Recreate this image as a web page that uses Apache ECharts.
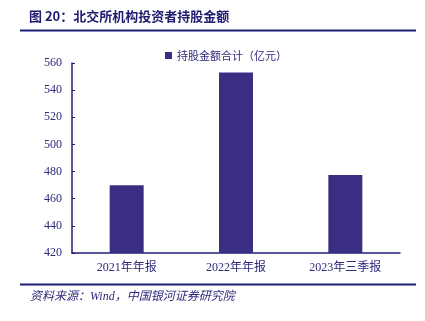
<!DOCTYPE html>
<html><head><meta charset="utf-8">
<script src="https://cdn.jsdelivr.net/npm/echarts@6/dist/echarts.min.js"></script>
<style>html,body{margin:0;padding:0;background:#fff}#c{width:425px;height:321px}</style>
</head><body><div id="c"></div>
<script>
const categories = ['2021年年报', '2022年年报', '2023年三季报'];
const values = [470, 553, 477.5];
const seriesName = '持股金额合计（亿元）';
const titleText = '图 20：北交所机构投资者持股金额';
const sourceText = '资料来源：Wind，中国银河证券研究院';

const navy = '#1f1c78';
const textColor = '#2e2a7c';
const chart = echarts.init(document.getElementById('c'));
chart.setOption({
  animation: false,
  backgroundColor: '#fff',
  grid: { left: 72, right: 25, top: 63, bottom: 68 },
  legend: {
    data: [seriesName], top: 45, left: 160, itemWidth: 7, itemHeight: 7, itemGap: 2,
    icon: 'rect',
    textStyle: { color: textColor, fontSize: 11, fontFamily: 'Noto Sans CJK SC' }
  },
  graphic: [
    { type: 'text', left: 29, top: 10, style: { text: titleText, fill: '#1f1c6e', font: 'bold 13px "Noto Sans CJK SC"' } },
    { type: 'line', shape: { x1: 20, y1: 30.5, x2: 416, y2: 30.5 }, style: { stroke: navy, lineWidth: 2 } },
    { type: 'line', shape: { x1: 20, y1: 284.5, x2: 416, y2: 284.5 }, style: { stroke: navy, lineWidth: 2 } },
    { type: 'text', left: 30, top: 291, style: { text: sourceText, fill: textColor, font: 'italic 12px "Liberation Serif", "Noto Sans CJK SC"' } }
  ],
  xAxis: {
    type: 'category', data: categories,
    axisLine: { lineStyle: { color: navy, width: 1.5 } },
    axisTick: { inside: true, length: 4, lineStyle: { color: navy } },
    axisLabel: { color: textColor, fontSize: 12, fontFamily: '"Liberation Serif", "Noto Sans CJK SC"', margin: 9 }
  },
  yAxis: {
    type: 'value', min: 420, max: 560, interval: 20,
    axisLine: { show: true, lineStyle: { color: navy, width: 1.5 } },
    axisTick: { show: true, inside: true, length: 3, lineStyle: { color: navy } },
    splitLine: { show: false },
    axisLabel: { color: textColor, fontSize: 12, fontFamily: '"Liberation Serif"', margin: 10 }
  },
  series: [{
    name: seriesName, type: 'bar', data: values, barWidth: 34,
    itemStyle: { color: '#3a2e82' }
  }]
});
</script></body></html>
